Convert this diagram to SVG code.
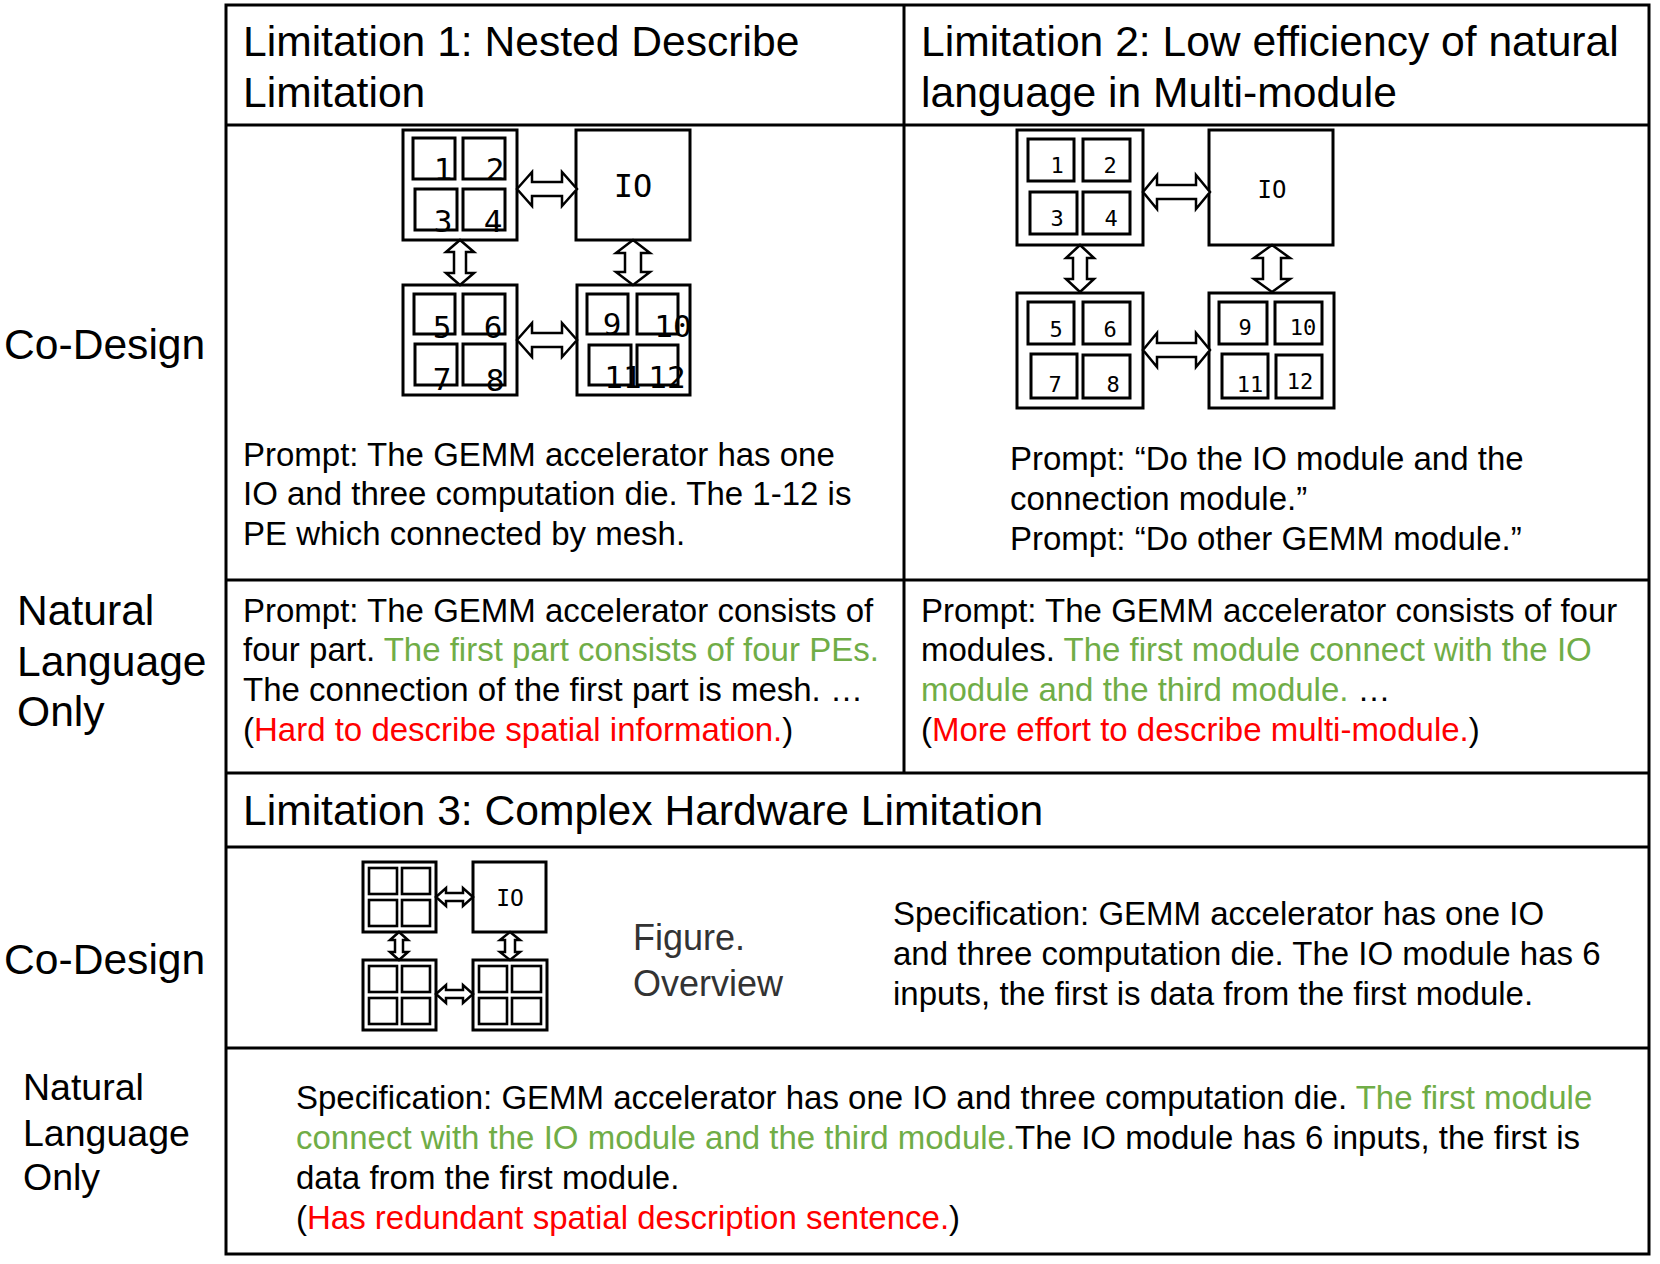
<svg xmlns="http://www.w3.org/2000/svg" width="1660" height="1264" viewBox="0 0 1660 1264">
<style>
.t{font-family:"Liberation Sans",Arial,sans-serif;fill:#000}
.h{font-size:42.6px}
.b{font-size:33px}
.g{fill:#70AD47}
.r{fill:#FF0000}
.grid{stroke:#000;stroke-width:3;fill:none}
.box{fill:#fff;stroke:#000;stroke-width:3}
.cell{fill:none;stroke:#000;stroke-width:3}
.cs{fill:none;stroke:#000;stroke-width:2.6}
.arr{fill:#fff;stroke:#000;stroke-width:2.5;stroke-linejoin:miter}
.m{font-family:"DejaVu Sans Mono",monospace;fill:#000;text-anchor:middle}
.m1{font-size:31px}
.m2{font-size:22px}
</style>
<rect width="1660" height="1264" fill="#fff"/>

<g id="table" class="grid">
<rect x="226" y="5" width="1423" height="1249"/>
<line x1="226" y1="125" x2="1649" y2="125"/>
<line x1="226" y1="580" x2="1649" y2="580"/>
<line x1="226" y1="773" x2="1649" y2="773"/>
<line x1="226" y1="847" x2="1649" y2="847"/>
<line x1="226" y1="1048" x2="1649" y2="1048"/>
<line x1="904" y1="5" x2="904" y2="773"/>
</g>

<g id="row-labels" class="t">
<text x="4" y="359" class="h">Co-Design</text>
<text x="17" y="625" class="h">Natural</text>
<text x="17" y="676" class="h">Language</text>
<text x="17" y="726" class="h">Only</text>
<text x="4" y="974" class="h">Co-Design</text>
<text x="23" y="1100" font-size="37.5">Natural</text>
<text x="23" y="1146" font-size="37.5">Language</text>
<text x="23" y="1190" font-size="37.5">Only</text>
</g>

<g id="header-1" class="t h">
<text x="243" y="56">Limitation 1: Nested Describe</text>
<text x="243" y="107">Limitation</text>
</g>
<g id="header-2" class="t h">
<text x="921" y="56">Limitation 2: Low efficiency of natural</text>
<text x="921" y="107">language in Multi-module</text>
</g>
<g id="header-3" class="t h">
<text x="243" y="825">Limitation 3: Complex Hardware Limitation</text>
</g>

<g id="lim1-prompt" class="t b">
<text x="243" y="466">Prompt: The GEMM accelerator has one</text>
<text x="243" y="505">IO and three computation die. The 1-12 is</text>
<text x="243" y="545">PE which connected by mesh.</text>
</g>
<g id="lim2-prompt" class="t b">
<text x="1010" y="470">Prompt: “Do the IO module and the</text>
<text x="1010" y="510">connection module.”</text>
<text x="1010" y="550">Prompt: “Do other GEMM module.”</text>
</g>
<g id="lim1-nl" class="t b">
<text x="243" y="622">Prompt: The GEMM accelerator consists of</text>
<text x="243" y="661">four part. <tspan class="g">The first part consists of four PEs.</tspan></text>
<text x="243" y="701">The connection of the first part is mesh. …</text>
<text x="243" y="741">(<tspan class="r">Hard to describe spatial information.</tspan>)</text>
</g>
<g id="lim2-nl" class="t b">
<text x="921" y="622">Prompt: The GEMM accelerator consists of four</text>
<text x="921" y="661">modules. <tspan class="g">The first module connect with the IO</tspan></text>
<text x="921" y="701"><tspan class="g">module and the third module.</tspan> …</text>
<text x="921" y="741">(<tspan class="r">More effort to describe multi-module.</tspan>)</text>
</g>
<g id="lim3-fig-caption" class="t">
<text x="633" y="950" font-size="36" fill="#333">Figure.</text>
<text x="633" y="996" font-size="36" fill="#333">Overview</text>
</g>
<g id="lim3-spec" class="t b">
<text x="893" y="925">Specification: GEMM accelerator has one IO</text>
<text x="893" y="965">and three computation die. The IO module has 6</text>
<text x="893" y="1005">inputs, the first is data from the first module.</text>
</g>
<g id="lim3-nl" class="t b">
<text x="296" y="1109">Specification: GEMM accelerator has one IO and three computation die. <tspan class="g">The first module</tspan></text>
<text x="296" y="1149"><tspan class="g">connect with the IO module and the third module.</tspan>The IO module has 6 inputs, the first is</text>
<text x="296" y="1189">data from the first module.</text>
<text x="296" y="1229">(<tspan class="r">Has redundant spatial description sentence.</tspan>)</text>
</g>

<!-- Figure 1 -->
<g id="f1-die1">
<rect class="box" x="403" y="130" width="114" height="110"/>
<rect class="cell" x="413" y="138" width="42" height="41"/>
<rect class="cell" x="463" y="138" width="42" height="41"/>
<rect class="cell" x="415" y="189" width="42" height="41"/>
<rect class="cell" x="463" y="189" width="42" height="41"/>
<text class="m m1" x="443" y="180">1</text>
<text class="m m1" x="495" y="180">2</text>
<text class="m m1" x="443" y="232">3</text>
<text class="m m1" x="493" y="232">4</text>
</g>
<g id="f1-io">
<rect class="box" x="576" y="130" width="114" height="110"/>
<text class="m" font-size="32" x="633" y="197">IO</text>
</g>
<g id="f1-die2">
<rect class="box" x="403" y="285" width="114" height="110"/>
<rect class="cell" x="414" y="294" width="41" height="40"/>
<rect class="cell" x="463" y="294" width="42" height="40"/>
<rect class="cell" x="415" y="344" width="42" height="41"/>
<rect class="cell" x="463" y="344" width="42" height="41"/>
<text class="m m1" x="442" y="338">5</text>
<text class="m m1" x="493" y="338">6</text>
<text class="m m1" x="442" y="390">7</text>
<text class="m m1" x="495" y="391">8</text>
</g>
<g id="f1-die3">
<rect class="box" x="577" y="285" width="113" height="110"/>
<rect class="cell" x="587" y="294" width="41" height="40"/>
<rect class="cell" x="637" y="294" width="41" height="40"/>
<rect class="cell" x="589" y="345" width="42" height="40"/>
<rect class="cell" x="637" y="345" width="41" height="40"/>
<text class="m m1" x="612" y="335">9</text>
<text class="m m1" x="673" y="337">10</text>
<text class="m m1" x="623" y="388">11</text>
<text class="m m1" x="667" y="388">12</text>
</g>

<!-- Figure 2 -->
<g id="f2-die1">
<rect class="box" x="1017" y="130" width="126" height="115"/>
<rect class="cell" x="1028" y="139" width="46" height="42"/>
<rect class="cell" x="1083" y="139" width="47" height="42"/>
<rect class="cell" x="1030" y="192" width="47" height="42"/>
<rect class="cell" x="1083" y="192" width="47" height="42"/>
<text class="m m2" x="1057" y="173">1</text>
<text class="m m2" x="1110" y="173">2</text>
<text class="m m2" x="1057" y="226">3</text>
<text class="m m2" x="1111" y="226">4</text>
</g>
<g id="f2-io">
<rect class="box" x="1209" y="130" width="124" height="115"/>
<text class="m" font-size="24" x="1272" y="198">IO</text>
</g>
<g id="f2-die2">
<rect class="box" x="1017" y="293" width="126" height="115"/>
<rect class="cell" x="1028" y="302" width="46" height="42"/>
<rect class="cell" x="1083" y="302" width="47" height="42"/>
<rect class="cell" x="1031" y="354" width="46" height="44"/>
<rect class="cell" x="1083" y="355" width="47" height="43"/>
<text class="m m2" x="1056" y="337">5</text>
<text class="m m2" x="1110" y="337">6</text>
<text class="m m2" x="1055" y="392">7</text>
<text class="m m2" x="1113" y="392">8</text>
</g>
<g id="f2-die3">
<rect class="box" x="1209" y="293" width="125" height="115"/>
<rect class="cell" x="1219" y="302" width="48" height="42"/>
<rect class="cell" x="1275" y="302" width="47" height="42"/>
<rect class="cell" x="1222" y="354" width="46" height="44"/>
<rect class="cell" x="1276" y="355" width="46" height="43"/>
<text class="m m2" x="1245" y="335">9</text>
<text class="m m2" x="1303" y="335">10</text>
<text class="m m2" x="1250" y="392">11</text>
<text class="m m2" x="1300" y="389">12</text>
</g>

<!-- Figure 3 -->
<g id="f3-die1">
<rect class="box" x="363" y="862" width="73" height="70"/>
<rect class="cs" x="369" y="868" width="28" height="26"/>
<rect class="cs" x="402" y="868" width="28" height="26"/>
<rect class="cs" x="369" y="900" width="28" height="26"/>
<rect class="cs" x="402" y="900" width="28" height="26"/>
</g>
<g id="f3-io">
<rect class="box" x="473" y="862" width="73" height="70"/>
<text class="m" font-size="23" x="510" y="906">IO</text>
</g>
<g id="f3-die2">
<rect class="box" x="363" y="960" width="73" height="70"/>
<rect class="cs" x="369" y="966" width="28" height="26"/>
<rect class="cs" x="402" y="966" width="28" height="26"/>
<rect class="cs" x="369" y="998" width="28" height="26"/>
<rect class="cs" x="402" y="998" width="28" height="26"/>
</g>
<g id="f3-die3">
<rect class="box" x="473" y="960" width="74" height="70"/>
<rect class="cs" x="479" y="966" width="28" height="26"/>
<rect class="cs" x="512" y="966" width="29" height="26"/>
<rect class="cs" x="479" y="998" width="28" height="26"/>
<rect class="cs" x="512" y="998" width="29" height="26"/>
</g>

<g id="connectors" class="arr">
<!-- fig1 -->
<path d="M517,189 L532,172 L532,182 L562,182 L562,172 L577,189 L562,206 L562,196 L532,196 L532,206 Z"/>
<path d="M517,340 L532,323 L532,333 L562,333 L562,323 L577,340 L562,357 L562,347 L532,347 L532,357 Z"/>
<path d="M460,240 L474,252 L466,252 L466,273 L474,273 L460,285 L446,273 L454,273 L454,252 L446,252 Z"/>
<path d="M633,240 L650,253 L641,253 L641,272 L650,272 L633,285 L616,272 L625,272 L625,253 L616,253 Z"/>
<!-- fig2 -->
<path d="M1143,192 L1157,175 L1157,185 L1196,185 L1196,175 L1210,192 L1196,209 L1196,199 L1157,199 L1157,209 Z"/>
<path d="M1143,350 L1157,333 L1157,343 L1196,343 L1196,333 L1210,350 L1196,367 L1196,357 L1157,357 L1157,367 Z"/>
<path d="M1080,245 L1094,258 L1087,258 L1087,279 L1094,279 L1080,292 L1066,279 L1073,279 L1073,258 L1066,258 Z"/>
<path d="M1272,245 L1290,258 L1281,258 L1281,279 L1290,279 L1272,292 L1254,279 L1263,279 L1263,258 L1254,258 Z"/>
<!-- fig3 -->
<path d="M436,897 L446,888 L446,893 L463,893 L463,888 L473,897 L463,906 L463,901 L446,901 L446,906 Z"/>
<path d="M436,994 L446,985 L446,990 L463,990 L463,985 L473,994 L463,1003 L463,998 L446,998 L446,1003 Z"/>
<path d="M399,932 L408,940 L403,940 L403,952 L408,952 L399,960 L390,952 L395,952 L395,940 L390,940 Z"/>
<path d="M510,932 L520,940 L515,940 L515,952 L520,952 L510,960 L500,952 L505,952 L505,940 L500,940 Z"/>
</g>
</svg>
